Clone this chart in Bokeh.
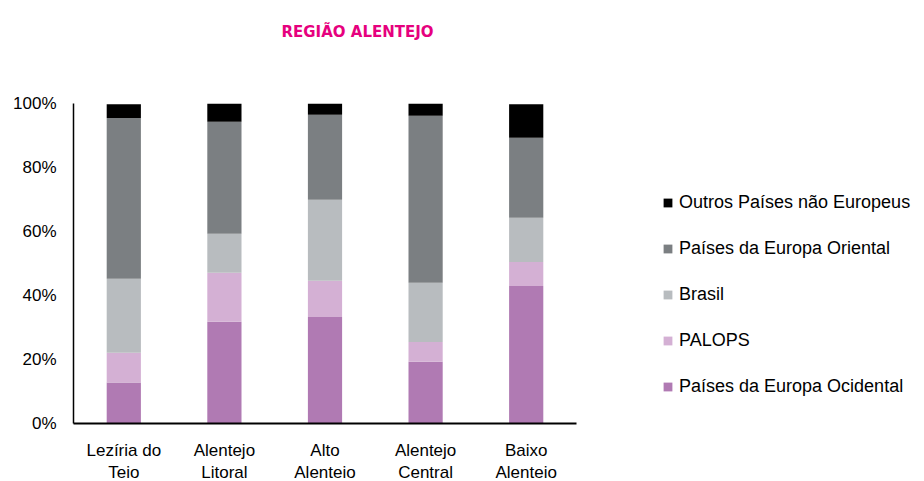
from bokeh.plotting import figure
from bokeh.models import FactorRange, Range1d, Legend, LegendItem, Title, PrintfTickFormatter, FixedTicker
from bokeh.embed import file_html
from bokeh.resources import INLINE

regions = ["Lezíria do\nTeio", "Alentejo\nLitoral", "Alto\nAlenteio", "Alentejo\nCentral", "Baixo\nAlenteio"]
series = ["Países da Europa Ocidental", "PALOPS", "Brasil", "Países da Europa Oriental", "Outros Países não Europeus"]
europa_ocidental = [12.8, 31.8, 33.3, 19.3, 43.0]
palops = [9.3, 15.3, 11.3, 6.2, 7.5]
brasil = [23.1, 12.2, 25.3, 18.5, 13.8]
europa_oriental = [50.3, 35.0, 26.6, 52.2, 25.0]
outros = [4.3, 5.7, 3.5, 3.8, 10.5]
colors = ["#B07AB3", "#D4B0D4", "#B8BCBF", "#7B7F82", "#000000"]
y_ticks = [0, 20, 40, 60, 80, 100]
title_text = "REGIÃO ALENTEJO"

data = {"region": regions, "s0": europa_ocidental, "s1": palops, "s2": brasil, "s3": europa_oriental, "s4": outros}
keys = ["s0", "s1", "s2", "s3", "s4"]

p = figure(x_range=FactorRange(*regions, range_padding=0), y_range=Range1d(0, 100),
           frame_width=503, frame_height=320, output_backend="svg", toolbar_location=None,
           min_border_left=73, min_border_right=348, min_border_top=103, min_border_bottom=56)
p.outline_line_color = None
p.xgrid.visible = False
p.ygrid.visible = False

rs = p.vbar_stack(keys, x="region", width=0.34, color=colors, line_color=None, source=data)

font = "Liberation Sans"
p.yaxis.ticker = FixedTicker(ticks=y_ticks)
p.yaxis.formatter = PrintfTickFormatter(format="%d%%")
p.yaxis.major_tick_line_color = None
p.yaxis.minor_tick_line_color = None
p.yaxis.axis_line_color = "black"
p.yaxis.axis_line_width = 1.5
p.yaxis.major_label_standoff = 11
p.yaxis.major_label_text_font = font
p.yaxis.major_label_text_font_size = "17px"
p.yaxis.major_label_text_color = "#000000"

p.xaxis.major_tick_line_color = None
p.xaxis.axis_line_color = "black"
p.xaxis.axis_line_width = 2
p.xaxis.major_label_standoff = 11
p.xaxis.major_label_text_font = font
p.xaxis.major_label_text_font_size = "17px"
p.xaxis.major_label_text_color = "#000000"

items = [LegendItem(label=series[i], renderers=[rs[i]]) for i in range(4, -1, -1)]
legend = Legend(items=items, location=(86, 26), orientation="vertical",
                label_text_font=font, label_text_font_size="18px", label_text_color="#000000",
                glyph_width=11, glyph_height=11, label_height=20, spacing=25,
                label_standoff=6, padding=0, margin=0, border_line_color=None,
                background_fill_alpha=0)
p.add_layout(legend, "right")

# spacer title (nearest the frame) pushes the real title upward
spacer = Title(text=" ", standoff=43, text_font="DejaVu Sans", text_font_size="15px")
p.add_layout(spacer, "above")

p.title = Title(text=title_text, align="left", offset=208, standoff=0,
                text_font="DejaVu Sans", text_font_style="bold", text_font_size="15px",
                text_color="#E6007E")

open("out.html", "w").write(file_html(p, INLINE))
